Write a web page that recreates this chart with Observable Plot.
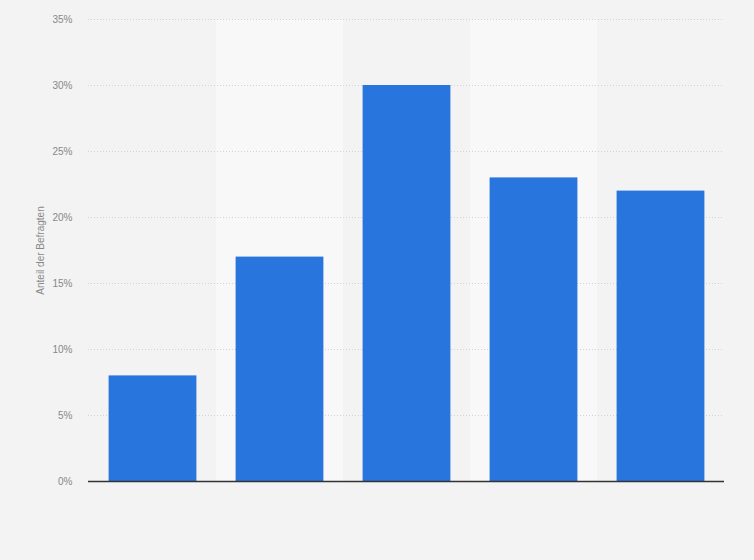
<!DOCTYPE html>
<html>
<head>
<meta charset="utf-8">
<script src="https://cdn.jsdelivr.net/npm/d3@7"></script>
<script src="https://cdn.jsdelivr.net/npm/@observablehq/plot@0.6"></script>
<style>
  html, body { margin: 0; padding: 0; background: #f3f3f3; }
  #chart svg { display: block; }
</style>
</head>
<body>
<div id="chart"></div>
<script>
const categories = ["1", "2", "3", "4", "5"];
const values = [8, 17, 30, 23, 22];
const yTicks = [0, 5, 10, 15, 20, 25, 30, 35];
const bandCats = ["2", "4"];

const data = categories.map((c, i) => ({ cat: c, value: values[i] }));

const chart = Plot.plot({
  width: 754,
  height: 560,
  marginLeft: 88,
  marginRight: 30,
  marginTop: 19,
  marginBottom: 79,
  style: { background: "#f3f3f3", fontFamily: "Arial, 'Liberation Sans', sans-serif" },
  x: { domain: categories, padding: 0, axis: null },
  y: { domain: [0, 35], ticks: yTicks },
  marks: [
    Plot.barY(bandCats, { x: d => d, y1: 0, y2: 35, fill: "#f8f8f8" }),
    Plot.ruleY(yTicks.filter(t => t > 0), { stroke: "#d2d2d2", strokeDasharray: "1,2", strokeWidth: 1 }),
    Plot.axisY({
      ticks: yTicks,
      tickSize: 0,
      tickPadding: 16,
      tickFormat: d => d + "%",
      fontSize: 10,
      color: "#888",
      label: "Anteil der Befragten",
      labelAnchor: "center",
      labelArrow: "none",
      labelOffset: 52
    }),
    Plot.barY(data, { x: "cat", y: "value", fill: "#2876dd", insetLeft: 19.6, insetRight: 19.6 }),
    Plot.ruleY([0], { stroke: "#333", strokeWidth: 1.5 })
  ]
});
document.getElementById("chart").appendChild(chart);
</script>
</body>
</html>
